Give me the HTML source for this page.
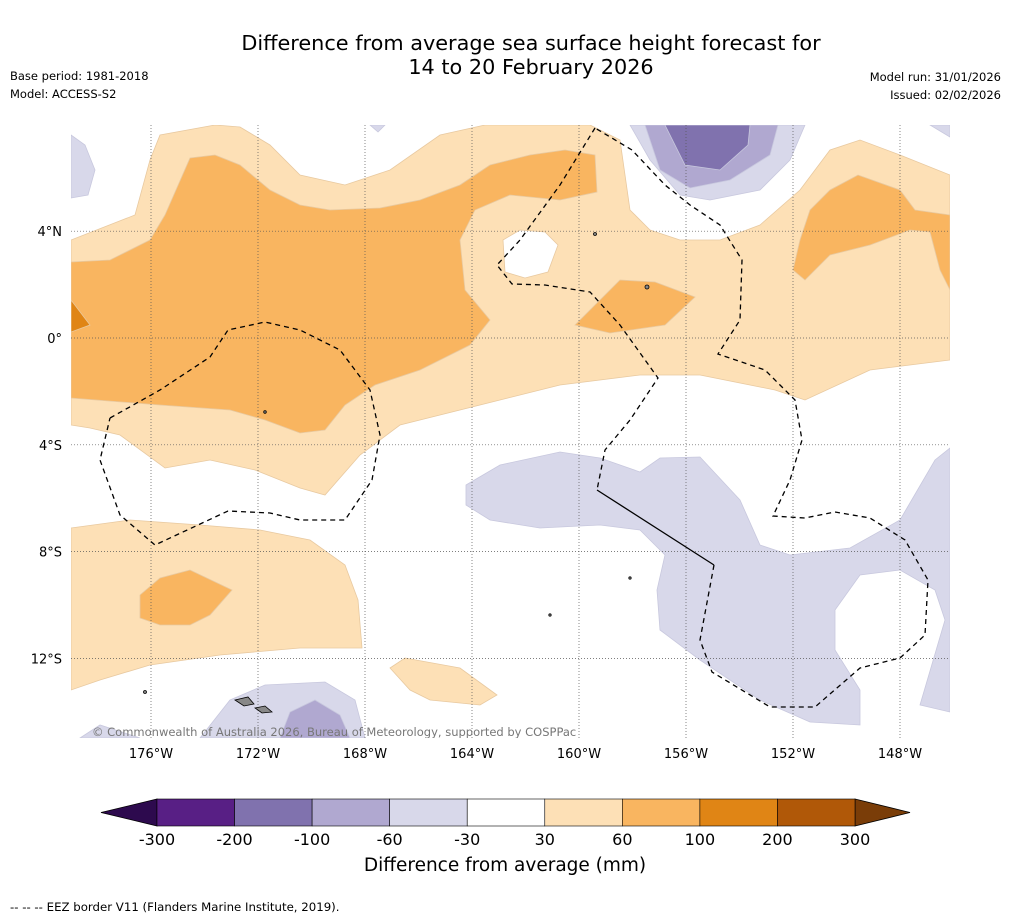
<!DOCTYPE html>
<html><head><meta charset="utf-8">
<style>
body{margin:0;background:#fff;width:1011px;height:919px;overflow:hidden;font-family:"DejaVu Sans",sans-serif;}
svg{display:block}
</style></head>
<body>
<svg width="1011" height="919" viewBox="0 0 1011 919" font-family="DejaVu Sans, sans-serif">
<rect width="1011" height="919" fill="#fff"/>
<text x="531" y="50" font-size="20.8" text-anchor="middle">Difference from average sea surface height forecast for</text>
<text x="531" y="74" font-size="20.8" text-anchor="middle">14 to 20 February 2026</text>
<text x="10" y="80" font-size="11.5">Base period: 1981-2018</text>
<text x="10" y="98" font-size="11.5">Model: ACCESS-S2</text>
<text x="1001" y="81" font-size="11.5" text-anchor="end">Model run: 31/01/2026</text>
<text x="1001" y="99" font-size="11.5" text-anchor="end">Issued: 02/02/2026</text>
<defs><clipPath id="mc"><rect x="71" y="125" width="879" height="613"/></clipPath></defs>
<g clip-path="url(#mc)">
<rect x="71" y="125" width="879" height="613" fill="#fff"/>
<g stroke="#e8c9a0" stroke-width="0.8">
<polygon fill="#fde0b6" points="71,240 135,215 150,160 160,135 215,125 240,127 270,145 300,175 345,185 390,170 440,135 485,125 590,125 620,140 630,210 650,230 680,240 720,240 760,225 800,190 830,150 860,140 900,155 950,175 950,360 870,370 805,400 775,390 700,375 640,375 560,385 480,405 400,425 360,455 325,495 300,488 255,470 210,460 165,468 120,435 90,428 71,425"/>
<polygon fill="#f9b560" points="71,262 110,260 150,240 165,215 190,158 215,155 240,165 270,190 300,205 330,210 380,208 420,200 460,185 490,165 530,155 565,150 595,155 597,192 560,200 510,195 475,210 460,240 465,290 490,320 470,345 420,370 375,385 345,405 325,430 300,433 265,420 230,410 160,405 71,398"/>
<polygon fill="#e08515" points="71,300 90,325 71,332"/>
<polygon fill="#fff" points="503,240 520,230 545,232 558,245 548,272 525,278 505,272"/>
<polygon fill="#f9b560" points="575,325 620,280 655,282 695,297 665,325 610,333"/>
<polygon fill="#f9b560" points="793,270 800,240 810,210 830,190 858,175 900,190 915,210 950,215 950,290 940,270 930,232 910,230 870,245 830,255 805,280"/>
<polygon fill="#fde0b6" points="71,528 130,520 200,525 260,530 310,540 345,565 358,600 362,648 300,648 220,655 150,665 100,680 71,690"/>
<polygon fill="#f9b560" points="140,595 160,578 190,570 232,590 210,615 190,625 160,625 140,618"/>
<polygon fill="#fde0b6" points="390,668 405,658 460,668 497,695 480,705 430,700 410,690"/>
</g>
<g stroke="#c8c8de" stroke-width="0.8">
<polygon fill="#d8d8ea" points="466,485 500,465 560,452 600,458 640,472 660,458 700,457 740,500 760,545 790,555 850,548 900,520 935,460 950,448 950,712 920,705 945,620 935,590 900,570 860,575 835,610 835,650 860,690 860,725 810,722 760,700 700,660 660,630 657,590 665,555 640,530 600,525 540,528 490,520 466,505"/>
<polygon fill="#d8d8ea" points="630,125 650,160 680,195 710,200 760,190 790,160 805,125"/>
<polygon fill="#b0a8d0" points="645,125 660,170 690,188 730,180 770,155 778,125"/>
<polygon fill="#8072ae" points="665,125 685,165 720,170 748,145 750,125"/>
<polygon fill="#d8d8ea" points="930,125 950,125 950,137"/>
<polygon fill="#d8d8ea" points="71,135 85,145 95,170 88,195 71,198"/>
<polygon fill="#d8d8ea" points="370,125 385,125 378,132"/>
<polygon fill="#d8d8ea" points="200,738 230,700 265,685 325,682 355,700 365,738"/>
<polygon fill="#b0a8d0" points="280,738 290,712 315,700 340,715 350,738"/>
<polygon fill="#d8d8ea" points="80,738 100,725 140,738"/>
</g>
<g id="grid" stroke="#555" stroke-width="0.7" stroke-dasharray="1,2"></g>
<g fill="none" stroke="#000" stroke-width="1.3" stroke-dasharray="5,4">
<polyline points="595,128 560,185 520,240 497,265 512,284 545,285 590,292 620,325 658,378 630,420 605,450 597,490"/>
<polyline points="714,565 700,640 712,672 770,707 815,707 860,668 900,658 925,635 928,580 905,540 870,518 835,512 805,518 773,516 790,480 802,440 795,400 765,370 718,354 740,320 742,260 720,225 690,205 665,185 632,150 595,128"/>
<polyline points="110,418 160,390 210,357 228,330 265,322 300,330 340,350 370,390 380,435 372,480 345,520 300,520 270,513 228,511 155,545 120,515 100,460 110,418"/>
</g>
<polyline points="597,490 714,565" fill="none" stroke="#000" stroke-width="1.3"/>
<g fill="#888" stroke="#000" stroke-width="0.8">
<polygon points="235,700 248,697 254,704 244,706"/>
<polygon points="255,708 265,706 272,712 262,713"/>
<circle cx="595" cy="234" r="1.5"/><circle cx="647" cy="287" r="2"/><circle cx="265" cy="412" r="1.3"/><circle cx="145" cy="692" r="1.5"/><circle cx="550" cy="615" r="1.2"/><circle cx="630" cy="578" r="1.2"/>
</g>
<text x="92" y="736" font-size="11.5" fill="#777">© Commonwealth of Australia 2026, Bureau of Meteorology, supported by COSPPac</text>
</g>
<g id="axes" font-size="13"></g>
<g id="cbar"></g>
<text x="505" y="871" font-size="18.5" text-anchor="middle">Difference from average (mm)</text>
<text x="10" y="911" font-size="11.75">--  --  -- EEZ border V11 (Flanders Marine Institute, 2019).</text>
</svg>
<script>
const lonTicks=[-176,-172,-168,-164,-160,-156,-152,-148];
const latTicks=[4,0,-4,-8,-12];
const cbLevels=[-300,-200,-100,-60,-30,30,60,100,200,300];
const cbColors=["#581f85","#8072ae","#b0a8d0","#d8d8ea","#ffffff","#fde0b6","#f9b560","#e08515","#b05808"];
const cbUnder="#2d0a4e", cbOver="#7a3d08";
const NS="http://www.w3.org/2000/svg";
function xLon(l){return 151+(l+176)*26.75;}
function yLat(l){return 338-l*26.7;}
function mk(t,a,p){const e=document.createElementNS(NS,t);for(const k in a)e.setAttribute(k,a[k]);p.appendChild(e);return e;}
const grid=document.getElementById('grid'),axes=document.getElementById('axes');
lonTicks.forEach(l=>{const x=xLon(l);
const g=mk('line',{x1:x,x2:x,y1:125,y2:738},grid);


const t=mk('text',{x:x,y:758,'text-anchor':'middle'},axes);t.textContent=Math.abs(l)+'°W';

});
latTicks.forEach(l=>{const y=yLat(l);
const g=mk('line',{x1:71,x2:950,y1:y,y2:y},grid);


const t=mk('text',{x:62,y:y+5,'text-anchor':'end'},axes);t.textContent=l===0?'0°':Math.abs(l)+'°'+(l>0?'N':'S');

});
const cb=document.getElementById('cbar');
const x0=157,x1=855,y0=799,h=27,n=cbColors.length,w=(x1-x0)/n;
function cx(i){return x0+i*w;}
const ul=mk('polygon',{points:`${x0},${y0} ${x0},${y0+h} 101,${y0+h/2}`,fill:cbUnder,stroke:'#000','stroke-width':0.8},cb);


const ov=mk('polygon',{points:`${x1},${y0} ${x1},${y0+h} 910,${y0+h/2}`,fill:cbOver,stroke:'#000','stroke-width':0.8},cb);


cbColors.forEach((c,i)=>{const r=mk('rect',{x:cx(i),y:y0,width:w,height:h,fill:c,stroke:'#000','stroke-width':0.6},cb);

});
cbLevels.forEach((v,i)=>{const t=mk('text',{x:cx(i),y:845,'text-anchor':'middle','font-size':16},cb);t.textContent=v;

});
</script>
</body></html>
